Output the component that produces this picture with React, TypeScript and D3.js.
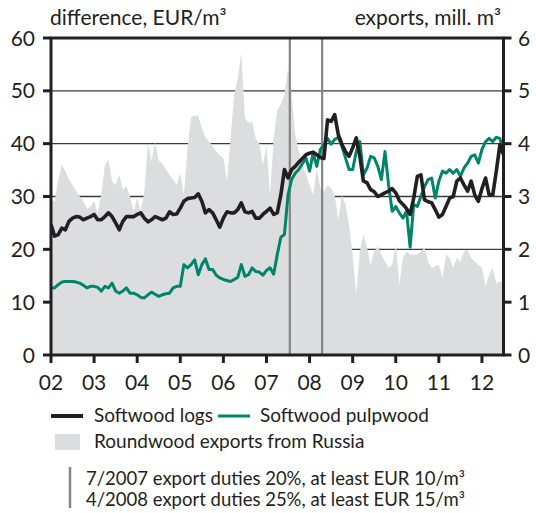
import React from 'react';
import * as d3 from 'd3';

// monthly values, Jan 2002 – Jul 2012
const startYear = 2002;

// Roundwood exports from Russia, mill. m3
const exportsRussia = [
  2.94, 2.91, 3.3, 3.61, 3.48, 3.32, 3.22, 3.1, 3.0, 2.91, 2.77, 2.81,
  2.92, 2.69, 3.03, 3.6, 3.7, 3.29, 3.22, 3.41, 3.13, 3.19, 3.0, 2.72,
  2.97, 2.72, 3.1, 4.01, 3.67, 4.03, 3.68, 3.63, 3.51, 3.41, 3.32, 3.22,
  3.44, 3.03, 3.92, 4.49, 4.54, 4.52, 4.3, 4.12, 4.04, 3.95, 3.85, 3.78,
  3.73, 3.29, 4.1, 4.93, 5.24, 5.72, 4.49, 4.39, 4.42, 4.1, 4.01, 3.6,
  3.95, 3.03, 4.1, 4.64, 4.74, 4.93, 5.43, 4.93, 4.17, 3.85, 3.6, 3.41,
  3.22, 3.03, 3.54, 3.16, 3.1, 3.22, 3.16, 3.03, 2.56, 3.03, 2.85, 2.47,
  1.9, 1.14, 1.96, 2.28, 2.03, 1.71, 1.96, 2.06, 1.9, 1.77, 1.65, 1.71,
  2.09, 1.33, 1.84, 1.96, 1.9, 1.9, 1.9, 1.96, 2.03, 1.77, 1.65, 1.68,
  1.71, 1.46, 1.9, 1.84, 1.65, 1.84, 1.77, 1.96, 1.99, 1.84, 1.77, 1.71,
  1.65, 1.3, 1.52, 1.65, 1.36, 1.39, 1.39,
];

// Softwood logs, difference EUR/m3
const softwoodLogs = [
  24.7, 22.5, 22.8, 24.0, 23.7, 25.3, 25.9, 26.2, 26.1, 25.6, 25.9, 26.2,
  26.6, 25.6, 25.6, 26.2, 26.9, 26.2, 25.0, 23.7, 25.3, 26.2, 26.2, 26.2,
  26.6, 26.9, 25.9, 25.2, 25.6, 26.2, 25.9, 25.6, 25.9, 27.1, 26.6, 26.7,
  27.8, 29.1, 29.6, 29.7, 29.8, 30.5, 29.1, 26.9, 27.5, 26.9, 25.6, 24.2,
  25.9, 27.1, 26.9, 26.9, 27.5, 28.8, 27.1, 26.9, 27.2, 25.9, 25.9, 26.6,
  27.2, 27.8, 26.6, 26.9, 30.3, 35.1, 33.5, 35.1, 35.7, 36.5, 37.2, 37.9,
  38.2, 38.4, 37.9, 37.4, 37.2, 44.5, 44.2, 45.5, 41.7, 39.9, 38.5, 37.6,
  39.2, 41.1, 37.6, 32.9, 32.6, 31.3, 30.9, 30.0, 30.3, 30.7, 31.0, 31.5,
  30.7, 29.2, 28.5, 27.7, 26.6, 29.7, 33.8, 34.1, 29.4, 29.0, 28.8, 27.5,
  26.1, 26.6, 28.1, 29.7, 30.0, 32.9, 33.5, 32.2, 31.0, 32.9, 30.3, 29.1,
  31.5, 33.5, 30.3, 30.3, 34.8, 39.8, 37.9,
];

// Softwood pulpwood, difference EUR/m3
const softwoodPulpwood = [
  12.7, 12.7, 13.3, 13.8, 13.9, 13.9, 13.9, 13.8, 13.6, 13.2, 12.7, 13.0,
  13.0, 12.8, 12.1, 13.0, 12.7, 13.6, 12.1, 11.7, 12.1, 12.7, 11.7, 11.7,
  11.4, 10.9, 10.8, 11.4, 11.9, 11.5, 11.1, 11.4, 11.6, 11.7, 12.7, 13.0,
  13.0, 17.1, 16.5, 17.1, 18.0, 15.2, 17.1, 18.2, 16.2, 16.2, 15.1, 14.6,
  14.3, 14.1, 13.9, 14.3, 14.7, 17.1, 14.9, 15.2, 16.5, 15.8, 15.7, 15.1,
  16.0, 16.5, 15.3, 19.0, 22.3, 22.8, 30.3, 33.2, 34.4, 35.1, 36.2, 37.3,
  34.8, 38.2, 35.7, 38.9, 39.8, 41.0, 39.9, 40.8, 41.2, 39.5, 37.3, 35.1,
  35.1, 38.5, 40.4, 34.1, 35.4, 37.6, 37.3, 35.7, 33.2, 38.5, 32.2, 27.2,
  28.1, 26.9, 25.9, 27.2, 20.4, 28.5, 28.1, 30.0, 31.9, 33.2, 33.5, 29.7,
  32.9, 34.8, 34.4, 35.1, 34.4, 35.1, 33.8, 35.4, 36.3, 37.6, 37.9, 36.3,
  38.9, 40.4, 41.0, 40.4, 41.2, 41.0, 38.2,
];

const yearLabels = ['02', '03', '04', '05', '06', '07', '08', '09', '10', '11', '12'];
const leftTicks = [0, 10, 20, 30, 40, 50, 60];
const rightTicks = [0, 1, 2, 3, 4, 5, 6];
const gridValues = [10, 20, 30, 40, 50];
// export duty dates (year, month)
const dutyDates = [[2007, 7], [2008, 4]];
const dutyNotes = [
  '7/2007 export duties 20%, at least EUR 10/m³',
  '4/2008 export duties 25%, at least EUR 15/m³',
];

const FONT = 'Lato, "Open Sans", sans-serif';
const INK = '#231f20';
const GREEN = '#00846a';
const AREA = '#dcdddf';

export default function App() {
  const left = 51, right = 503.5, top = 38, bottom = 355;

  const x = d3.scaleLinear().domain([2002, 2012.5]).range([left, right]);
  const yL = d3.scaleLinear().domain([0, 60]).range([bottom, top]);
  const yR = d3.scaleLinear().domain([0, 6]).range([bottom, top]);

  const t = (i: number) => startYear + i / 12;

  const area = d3.area<number>()
    .x((_, i) => x(t(i)))
    .y0(yR(0))
    .y1((d) => yR(d));

  const line = d3.line<number>()
    .x((_, i) => x(t(i)))
    .y((d) => yL(d));

  const monthPos = (yr: number, mo: number) => x(yr + (mo - 0.5) / 12);

  return (
    <svg width={536} height={513} style={{ position: 'absolute', left: 0, top: 0 }}
      fontFamily={FONT}>
      <rect width={536} height={513} fill="#fff" />
      <defs>
        <clipPath id="plot">
          <rect x={left} y={top} width={right - left} height={bottom - top} />
        </clipPath>
      </defs>

      {/* grid */}
      {gridValues.map((v) => (
        <line key={v} x1={left} x2={right} y1={yL(v)} y2={yL(v)} stroke="#3a3a3a" strokeWidth={1.4} />
      ))}

      <g clipPath="url(#plot)">
        <path d={area(exportsRussia) || ''} fill={AREA} />
        {dutyDates.map(([yr, mo]) => (
          <line key={yr} x1={monthPos(yr, mo)} x2={monthPos(yr, mo)} y1={top} y2={bottom}
            stroke="#858585" strokeWidth={2.2} />
        ))}
        <path d={line(softwoodPulpwood) || ''} fill="none" stroke={GREEN} strokeWidth={3}
          strokeLinejoin="round" />
        <path d={line(softwoodLogs) || ''} fill="none" stroke={INK} strokeWidth={3.6}
          strokeLinejoin="round" />
      </g>

      {/* frame */}
      <line x1={left - 1} x2={right + 1} y1={top} y2={top} stroke={INK} strokeWidth={3} />
      <line x1={left} x2={left} y1={top} y2={bottom} stroke={INK} strokeWidth={3} />
      <line x1={right} x2={right} y1={top} y2={bottom} stroke={INK} strokeWidth={3} />
      <line x1={left - 1} x2={right + 1} y1={bottom} y2={bottom} stroke={INK} strokeWidth={3} />

      {/* left axis */}
      {leftTicks.map((v) => (
        <g key={v}>
          <line x1={left - 8} x2={left} y1={yL(v)} y2={yL(v)} stroke={INK} strokeWidth={3} />
          <text x={35} y={yL(v) + 7.5} textAnchor="end" fontSize={21} fill={INK}>{v}</text>
        </g>
      ))}

      {/* right axis */}
      {rightTicks.map((v) => (
        <g key={v}>
          <line x1={right} x2={right + 8} y1={yR(v)} y2={yR(v)} stroke={INK} strokeWidth={3} />
          <text x={518} y={yR(v) + 7.5} textAnchor="start" fontSize={21} fill={INK}>{v}</text>
        </g>
      ))}

      {/* bottom axis */}
      {yearLabels.map((lab, i) => (
        <g key={lab}>
          <line x1={x(2002 + i)} x2={x(2002 + i)} y1={bottom} y2={bottom + 8} stroke={INK} strokeWidth={3} />
          <text x={x(2002 + i)} y={390} textAnchor="middle" fontSize={21} fill={INK}>{lab}</text>
        </g>
      ))}

      {/* axis titles */}
      <text x={50} y={25} fontSize={21} fill={INK}>difference, EUR/m³</text>
      <text x={501} y={25} fontSize={21} fill={INK} textAnchor="end">exports, mill. m³</text>

      {/* legend */}
      <line x1={51} x2={83} y1={416} y2={416} stroke={INK} strokeWidth={4} />
      <text x={94} y={422} fontSize={19} fill={INK}>Softwood logs</text>
      <line x1={218} x2={250} y1={416} y2={416} stroke={GREEN} strokeWidth={3} />
      <text x={260} y={422} fontSize={19} fill={INK}>Softwood pulpwood</text>
      <rect x={55} y={434} width={25} height={16} fill={AREA} />
      <text x={94} y={448} fontSize={19} fill={INK}>Roundwood exports from Russia</text>

      <line x1={70} x2={70} y1={467} y2={508} stroke="#858585" strokeWidth={2.5} />
      {dutyNotes.map((n, i) => (
        <text key={i} x={86} y={485 + i * 21} fontSize={18.5} fill={INK}>{n}</text>
      ))}
    </svg>
  );
}
